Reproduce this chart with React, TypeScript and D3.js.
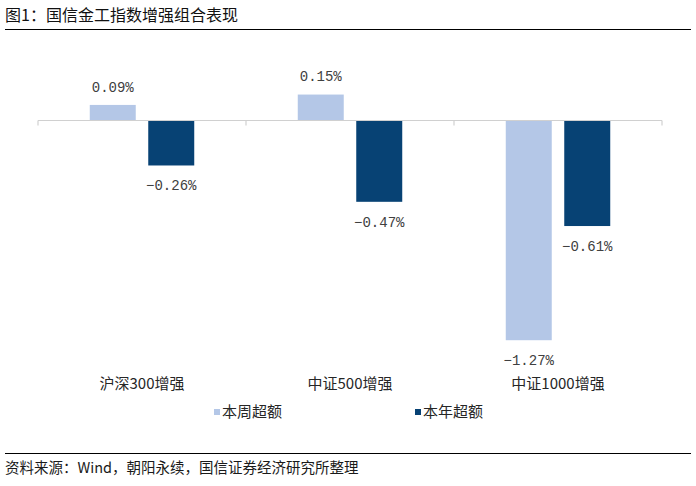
import React from "react";
import * as d3 from "d3";

const categories = ["沪深300增强", "中证500增强", "中证1000增强"];
const seriesNames = ["本周超额", "本年超额"];
const weeklyExcess = [0.09, 0.15, -1.27];
const yearlyExcess = [-0.26, -0.47, -0.61];
const title = "图1：国信金工指数增强组合表现";
const source = "资料来源：Wind，朝阳永续，国信证券经济研究所整理";

const colors = ["#B4C7E7", "#074274"];
const cjk = "'Noto Sans CJK SC', 'Noto Sans', sans-serif";
const mono = "'Liberation Mono', 'DejaVu Sans Mono', monospace";

export default function App() {
  const W = 696, H = 486;
  const series = [weeklyExcess, yearlyExcess];
  const y = d3.scaleLinear().domain([-1.4, 0.4]).range([120.5 + 1.4 * 173, 120.5 - 0.4 * 173]);
  const x0 = d3.scaleBand<string>().domain(categories).range([38, 662]).padding(0);
  const x1 = d3.scaleBand<string>().domain(seriesNames).range([0, x0.bandwidth()]).paddingInner(0.2137).paddingOuter(0.885);
  const y0 = y(0);
  const fmt = (v: number) => d3.format(".2f")(v) + "%";

  return (
    <svg width={W} height={H} style={{ position: "absolute", left: 0, top: 0, background: "#fff" }}>
      <text x={5} y={21} fontFamily={cjk} fontSize={16} fill="#111">{title}</text>
      <line x1={5} x2={691} y1={29.5} y2={29.5} stroke="#000" strokeWidth={1.2} />

      {categories.map((c, i) =>
        series.map((s, j) => {
          const v = s[i];
          const bx = (x0(c) as number) + (x1(seriesNames[j]) as number);
          const bw = x1.bandwidth();
          const top = Math.min(y(v), y0);
          const h = Math.abs(y(v) - y0);
          const cx = bx + bw / 2;
          const ly = v >= 0 ? y(v) - 18 : y(v) + 20;
          return (
            <g key={c + j}>
              <rect x={bx} y={top} width={bw} height={h} fill={colors[j]} />
              <text x={cx} y={ly} dy="0.35em" textAnchor="middle" fontFamily={mono} fontSize={14} fill="#404040">{fmt(v)}</text>
            </g>
          );
        })
      )}

      <line x1={38} x2={662} y1={y0} y2={y0} stroke="#D0D0D0" strokeWidth={1.2} />
      {[...categories.map((c) => x0(c) as number), 662].map((tx, i) => (
        <line key={i} x1={tx} x2={tx} y1={y0} y2={y0 + 5} stroke="#D0D0D0" strokeWidth={1.2} />
      ))}

      {categories.map((c) => (
        <text key={c} x={(x0(c) as number) + x0.bandwidth() / 2} y={384} dy="0.35em" textAnchor="middle" fontFamily={cjk} fontSize={15} fill="#262626">{c}</text>
      ))}

      {seriesNames.map((n, j) => {
        const lx = [214, 415][j];
        return (
          <g key={n}>
            <rect x={lx} y={409} width={6} height={6} fill={colors[j]} />
            <text x={lx + 8} y={412} dy="0.35em" fontFamily={cjk} fontSize={15} fill="#262626">{n}</text>
          </g>
        );
      })}

      <line x1={5} x2={691} y1={453.5} y2={453.5} stroke="#000" strokeWidth={1.2} />
      <text x={5} y={468} dy="0.35em" fontFamily={cjk} fontSize={14.5} fill="#1a1a1a">{source}</text>
    </svg>
  );
}
